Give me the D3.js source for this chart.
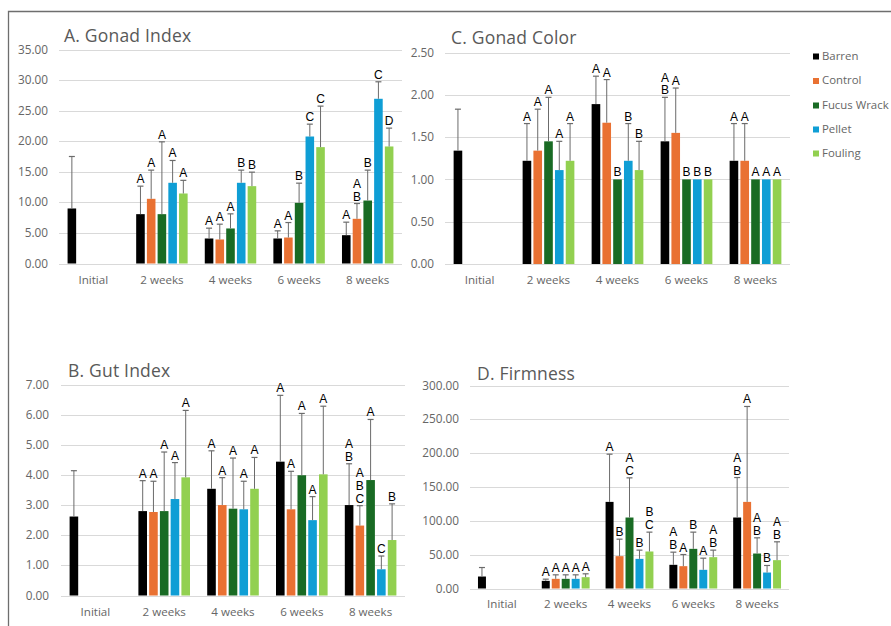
<!DOCTYPE html>
<html lang="en">
<head>
<meta charset="UTF-8">
<title>Urchin gonad, gut and firmness by feed</title>
<script src="https://d3js.org/d3.v7.min.js"></script>
<style>
    body { margin: 0; background: #fff; }
    .tick-label, .cat-label, .legend-label { font-family: "Open Sans", sans-serif; fill: #666; }
    .panel-title { font-family: "Open Sans", sans-serif; fill: #595959; font-size: 17.5px; letter-spacing: 0.2px; }
    .sig { font-family: "Liberation Sans", Arial, sans-serif; font-size: 12px; fill: #000; }
</style>
</head>
<body>
<svg width="891" height="626"></svg>
<script>
// categories and treatments
const categories = ["Initial", "2 weeks", "4 weeks", "6 weeks", "8 weeks"];
const treatments = ["Barren", "Control", "Fucus Wrack", "Pellet", "Fouling"];
const colors = ["#000000", "#e97132", "#196b24", "#0f9ed5", "#92d050"];

// A. Gonad index: mean, sd, letters (one row per category, one column per treatment)
const gonadMean = [
    [9.0, null, null, null, null],
    [8.07, 10.58, 8.07, 13.2, 11.45],
    [4.09, 3.93, 5.73, 13.2, 12.65],
    [4.09, 4.25, 9.92, 20.77, 19.03],
    [4.63, 7.31, 10.3, 26.94, 19.14]
];
const gonadSd = [
    [8.5, null, null, null, null],
    [4.58, 4.69, 11.83, 3.65, 2.15],
    [1.69, 2.5, 2.39, 2.07, 2.29],
    [1.25, 2.45, 3.22, 2.02, 6.71],
    [2.13, 2.5, 4.97, 2.78, 3.0]
];
const gonadLetters = [
    ["", "", "", "", ""],
    ["A", "A", "A", "A", "A"],
    ["A", "A", "A", "B", "B"],
    ["A", "A", "B", "C", "C"],
    ["A", "AB", "B", "C", "D"]
];

// B. Gut index
const gutMean = [
    [2.62, null, null, null, null],
    [2.80, 2.77, 2.80, 3.20, 3.92],
    [3.54, 3.00, 2.88, 2.86, 3.54],
    [4.44, 2.86, 3.99, 2.50, 4.02],
    [3.00, 2.32, 3.83, 0.87, 1.84]
];
const gutSd = [
    [1.52, null, null, null, null],
    [1.01, 1.02, 1.96, 1.21, 2.22],
    [1.26, 0.91, 1.68, 0.93, 1.04],
    [2.20, 1.26, 2.05, 0.78, 2.26],
    [1.37, 0.66, 2.01, 0.44, 1.20]
];
const gutLetters = [
    ["", "", "", "", ""],
    ["A", "A", "A", "A", "A"],
    ["A", "A", "A", "A", "A"],
    ["A", "A", "A", "A", "A"],
    ["AB", "ABC", "A", "C", "B"]
];

// C. Gonad color
const colorMean = [
    [1.34, null, null, null, null],
    [1.22, 1.34, 1.45, 1.11, 1.22],
    [1.89, 1.67, 1.00, 1.22, 1.11],
    [1.45, 1.55, 1.00, 1.00, 1.00],
    [1.22, 1.22, 1.00, 1.00, 1.00]
];
const colorSd = [
    [0.49, null, null, null, null],
    [0.44, 0.49, 0.52, 0.34, 0.44],
    [0.33, 0.51, 0, 0.44, 0.34],
    [0.52, 0.53, 0, 0, 0],
    [0.44, 0.44, 0, 0, 0]
];
const colorLetters = [
    ["", "", "", "", ""],
    ["A", "A", "A", "A", "A"],
    ["A", "A", "B", "B", "B"],
    ["AB", "A", "B", "B", "B"],
    ["A", "A", "A", "A", "A"]
];

// D. Firmness
const firmMean = [
    [17.7, null, null, null, null],
    [11.3, 14.3, 14.3, 14.3, 16.7],
    [128, 47.8, 104.9, 43.8, 54.7],
    [35, 33, 58.6, 27.6, 46.3],
    [104.9, 128, 51.7, 23.6, 41.9]
];
const firmSd = [
    [13.3, null, null, null, null],
    [2.5, 5.9, 5.9, 5.9, 5.0],
    [70.5, 25.1, 58.6, 12.9, 28.6],
    [18.7, 17.2, 24.7, 17.2, 10.4],
    [59.1, 141, 23.2, 10.4, 27.1]
];
const firmLetters = [
    ["", "", "", "", ""],
    ["A", "A", "A", "A", "A"],
    ["A", "B", "AC", "B", "BC"],
    ["AB", "A", "B", "A", "AB"],
    ["AB", "A", "AB", "B", "AB"]
];

const svg = d3.select("svg");
svg.append("rect").attr("width", 891).attr("height", 626).attr("fill", "#fff");

// outer frame (left and top edges only are visible)
svg.append("path")
    .attr("d", "M8.5,626 V11.5 H891")
    .attr("fill", "none")
    .attr("stroke", "#6e6e6e")
    .attr("stroke-width", 1.3);

function drawPanel(p, means, sds, letters) {
    const y = d3.scaleLinear().domain([0, p.max]).range([p.bottom, p.top]);
    const x0 = d3.scaleBand().domain(categories).range([p.left, p.right])
        .paddingInner(0.25).paddingOuter(0.125);
    const x1 = d3.scaleBand().domain(treatments).range([0, x0.bandwidth()]).paddingInner(0.2);

    const g = svg.append("g");

    // gridlines + tick labels
    const ticks = d3.range(0, p.max + p.step / 2, p.step);
    g.selectAll(".grid").data(ticks).join("line")
        .attr("x1", p.left).attr("x2", p.right)
        .attr("y1", d => Math.round(y(d)) + 0.5).attr("y2", d => Math.round(y(d)) + 0.5)
        .attr("stroke", "#d9d9d9").attr("stroke-width", 1);
    g.selectAll(".tick-label").data(ticks).join("text")
        .attr("class", "tick-label")
        .attr("x", p.labelX).attr("y", d => y(d))
        .attr("dy", "0.35em").attr("text-anchor", "end")
        .attr("font-size", 11.8)
        .text(d => d3.format(".2f")(d));

    // category labels
    g.selectAll(".cat-label").data(categories).join("text")
        .attr("class", "cat-label")
        .attr("x", d => x0(d) + x0.bandwidth() / 2).attr("y", p.catY)
        .attr("dy", "0.35em").attr("text-anchor", "middle")
        .attr("font-size", 11.6)
        .text(d => d);

    // title
    g.append("text").attr("class", "panel-title")
        .attr("x", p.titleX).attr("y", p.titleY).text(p.title);

    // bars, error bars, letters
    const cells = [];
    categories.forEach((c, i) => {
        treatments.forEach((t, j) => {
            if (means[i][j] == null) return;
            cells.push({ cat: c, tr: t, j: j, mean: means[i][j], sd: sds[i][j], lab: letters[i][j] });
        });
    });

    g.selectAll(".bar").data(cells).join("rect")
        .attr("x", d => x0(d.cat) + x1(d.tr))
        .attr("y", d => y(d.mean))
        .attr("width", x1.bandwidth())
        .attr("height", d => y(0) - y(d.mean))
        .attr("fill", d => colors[d.j]);

    const errs = cells.filter(d => d.sd > 0);
    const cx = d => x0(d.cat) + x1(d.tr) + x1.bandwidth() / 2;
    g.selectAll(".err").data(errs).join("line")
        .attr("x1", cx).attr("x2", cx)
        .attr("y1", d => y(d.mean)).attr("y2", d => y(d.mean + d.sd))
        .attr("stroke", "#6b6b6b").attr("stroke-width", 1);
    g.selectAll(".cap").data(errs).join("line")
        .attr("x1", d => cx(d) - 3).attr("x2", d => cx(d) + 3)
        .attr("y1", d => y(d.mean + d.sd)).attr("y2", d => y(d.mean + d.sd))
        .attr("stroke", "#6b6b6b").attr("stroke-width", 1.2);

    cells.filter(d => d.lab).forEach(d => {
        const base = y(d.mean + (d.sd || 0)) - 3;
        const chars = d.lab.split("");
        chars.forEach((ch, k) => {
            g.append("text").attr("class", "sig")
                .attr("x", cx(d))
                .attr("y", base - (chars.length - 1 - k) * 12.8)
                .attr("text-anchor", "middle")
                .text(ch);
        });
    });
}

drawPanel({ left: 59, right: 402, top: 49.5, bottom: 263.5, max: 35, step: 5,
    labelX: 48, catY: 280, title: "A. Gonad Index", titleX: 64, titleY: 41.5 },
    gonadMean, gonadSd, gonadLetters);

drawPanel({ left: 445, right: 790, top: 52.5, bottom: 264, max: 2.5, step: 0.5,
    labelX: 434, catY: 280, title: "C. Gonad Color", titleX: 451, titleY: 44 },
    colorMean, colorSd, colorLetters);

drawPanel({ left: 61, right: 405, top: 384.5, bottom: 595.5, max: 7, step: 1,
    labelX: 49, catY: 611.5, title: "B. Gut Index", titleX: 68, titleY: 376.5 },
    gutMean, gutSd, gutLetters);

drawPanel({ left: 470, right: 789, top: 385.5, bottom: 588.5, max: 300, step: 50,
    labelX: 459, catY: 604, title: "D. Firmness", titleX: 477, titleY: 380 },
    firmMean, firmSd, firmLetters);

// legend (sized so the longest name still fits inside the page)
const legendY = [56, 80.5, 105, 129, 153];
const legend = svg.append("g");
treatments.forEach((t, i) => {
    legend.append("rect").attr("x", 813).attr("y", legendY[i] - 2.5)
        .attr("width", 6).attr("height", 6).attr("fill", colors[i]);
    legend.append("text").attr("class", "legend-label")
        .attr("x", 822).attr("y", legendY[i]).attr("dy", "0.35em")
        .attr("font-size", 11.4).text(t);
});
</script>
</body>
</html>
